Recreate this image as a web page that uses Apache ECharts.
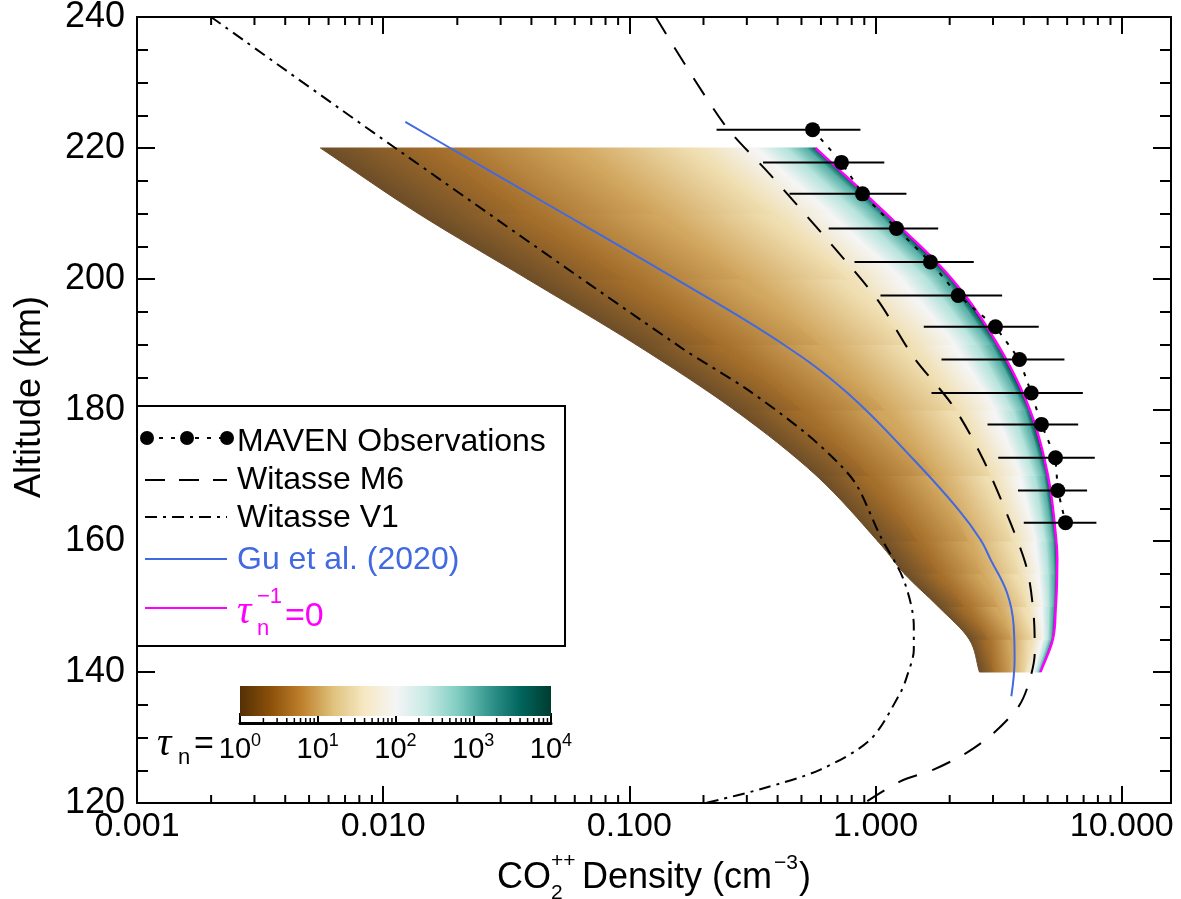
<!DOCTYPE html>
<html><head><meta charset="utf-8">
<script src="https://cdn.jsdelivr.net/npm/echarts@6/dist/echarts.min.js"></script>
<style>html,body{margin:0;padding:0;background:#fff}#c{width:1181px;height:899px}</style>
</head><body><div id="c"></div>
<script>
// ---------------- DATA ----------------
// axis ticks
const xMajorTicks = [0.001, 0.01, 0.1, 1, 10];
const yTickLabels = [120, 140, 160, 180, 200, 220, 240];
const colorbarTicks = [1, 10, 100, 1000, 10000];

// MAVEN observations (altitude km, density cm^-3, error-bar bounds)
const mavenAlt     = [222.8, 217.8, 213.0, 207.7, 202.6, 197.5, 192.7, 187.7, 182.6, 177.8, 172.7, 167.7, 162.8];
const mavenDensity = [0.555, 0.727, 0.885, 1.216, 1.671, 2.165, 3.069, 3.84, 4.29, 4.72, 5.38, 5.50, 5.91];
const mavenErrLow  = [0.226, 0.349, 0.447, 0.645, 0.821, 1.047, 1.570, 1.853, 1.687, 2.85, 3.15, 3.79, 4.0];
const mavenErrHigh = [0.868, 1.085, 1.335, 1.796, 2.505, 3.266, 4.60, 5.85, 6.95, 6.65, 7.77, 7.23, 7.89];

// Witasse M6 (dashed)
const m6Alt     = [240, 223.8, 215.9, 204.9, 196.8, 188.1, 180.5, 172.4, 162.8, 155.6, 148.5, 142.9, 138.3, 134.8, 130.7, 127.7, 125.1, 123.3, 120];
const m6Density = [0.128, 0.241, 0.374, 0.675, 1.019, 1.426, 2.073, 2.74, 3.53, 4.13, 4.39, 4.43, 4.19, 3.82, 3.02, 2.35, 1.72, 1.26, 0.90];

// Witasse V1 (dash-dot)
const v1Alt     = [240, 220, 189.6, 183.1, 176.5, 171.6, 168.3, 160.7, 154.1, 147.0, 143.4, 139.3, 136.8, 129.7, 125.1, 122.1, 120];
const v1Density = [0.0020, 0.0112, 0.161, 0.302, 0.519, 0.719, 0.845, 1.047, 1.30, 1.43, 1.43, 1.34, 1.26, 0.953, 0.597, 0.340, 0.204];

// Gu et al. (2020)
const guAlt     = [224.0, 220.0, 212.1, 199.6, 190.3, 182.6, 172.4, 164.8, 160.2, 157.2, 152.1, 147.0, 141.9, 136.3];
const guDensity = [0.0123, 0.0187, 0.0432, 0.161, 0.411, 0.769, 1.43, 2.17, 2.67, 2.93, 3.42, 3.64, 3.67, 3.56];

// model family: density profiles for tau_n = 10^0 ... 10^3.5 and tau_n^-1 = 0
const modelAlt = [140, 145, 150, 155, 160, 170, 180, 190, 200, 210, 220];
const tauLog10 = [0, 0.5, 1, 1.5, 2, 2.5, 3, 3.5, 4];
const tau_1e0   = [2.642, 2.399, 1.795, 1.309, 1.019, 0.574, 0.267, 0.1062, 0.0385, 0.01387, 0.00556];
const tau_1e0_5 = [3.013, 2.871, 2.312, 1.820, 1.496, 0.944, 0.505, 0.2312, 0.0959, 0.0379, 0.01614];
const tau_1e1   = [3.532, 3.573, 3.148, 2.710, 2.388, 1.734, 1.094, 0.597, 0.2917, 0.1291, 0.0590];
const tau_1e1_5 = [4.064, 4.335, 4.121, 3.846, 3.597, 2.944, 2.153, 1.368, 0.771, 0.378, 0.1832];
const tau_1e2   = [4.365, 4.775, 4.732, 4.603, 4.436, 3.864, 3.041, 2.089, 1.268, 0.652, 0.327];
const tau_1e2_5 = [4.519, 5.012, 5.047, 5.012, 4.898, 4.406, 3.589, 2.559, 1.611, 0.847, 0.4315];
const tau_1e3   = [4.624, 5.164, 5.272, 5.309, 5.236, 4.797, 4.009, 2.931, 1.888, 1.009, 0.520];
const tau_1e3_5 = [4.667, 5.224, 5.370, 5.420, 5.370, 4.955, 4.178, 3.083, 2.000, 1.079, 0.557];
const tau_inf   = [4.677, 5.248, 5.395, 5.458, 5.420, 5.012, 4.236, 3.133, 2.042, 1.102, 0.570];

// ---------------- STYLE ----------------
const FONT = '"Liberation Sans", Arial, Helvetica, sans-serif';
const SERIF = '"Liberation Serif", "DejaVu Serif", serif';
const BRBG = ['#543005','#8c510a','#bf812d','#dfc27d','#f6e8c3','#f5f5f5','#c7eae5','#80cdc1','#35978f','#01665e','#003c30'];
const BLUE = '#4169E1', MAGENTA = '#FF00FF';
// the striped rendering of the original makes the low-tau part look a bit lighter
const STRIPE_LIGHTEN = [0.14, 0.10, 0.05, 0, 0, 0, 0, 0, 0];

function hexRgb(h){ return [parseInt(h.substr(1,2),16), parseInt(h.substr(3,2),16), parseInt(h.substr(5,2),16)]; }
function brbgRgb(t){
  t = Math.max(0, Math.min(1, t));
  const n = BRBG.length - 1, f = t * n, i = Math.min(n - 1, Math.floor(f)), u = f - i;
  const a = hexRgb(BRBG[i]), b = hexRgb(BRBG[i + 1]);
  return [0,1,2].map(k => a[k] + (b[k] - a[k]) * u);
}
function rgbStr(c, w){ return 'rgb(' + c.map(v => Math.round(v + (255 - v) * (w || 0))).join(',') + ')'; }

const curves = [tau_1e0, tau_1e0_5, tau_1e1, tau_1e1_5, tau_1e2, tau_1e2_5, tau_1e3, tau_1e3_5, tau_inf];
const curveColors = tauLog10.map((l, i) => rgbStr(brbgRgb(l / 4), STRIPE_LIGHTEN[i]));

const bandItems = [];
for (let b = 0; b < curves.length - 1; b++)
  for (let s = 0; s < modelAlt.length - 1; s++)
    bandItems.push([curves[b][s], modelAlt[s], b, s]);

// smooth (Catmull-Rom) rendering of a profile segment in pixel space
const SUB = 8;
function segmentPixels(api, curve, s){
  const P = k => api.coord([curve[k], modelAlt[k]]);
  const p1 = P(s), p2 = P(s + 1);
  const p0 = s > 0 ? P(s - 1) : [2 * p1[0] - p2[0], 2 * p1[1] - p2[1]];
  const p3 = s + 2 < modelAlt.length ? P(s + 2) : [2 * p2[0] - p1[0], 2 * p2[1] - p1[1]];
  const out = [];
  for (let j = 0; j <= SUB; j++) {
    const t = j / SUB, t2 = t * t, t3 = t2 * t;
    out.push([0, 1].map(d => 0.5 * (2 * p1[d] + (-p0[d] + p2[d]) * t +
      (2 * p0[d] - 5 * p1[d] + 4 * p2[d] - p3[d]) * t2 + (-p0[d] + 3 * p1[d] - 3 * p2[d] + p3[d]) * t3)));
  }
  return out;
}

function renderBand(params, api){
  const b = api.value(2), s = api.value(3);
  const L = segmentPixels(api, curves[b], s), R = segmentPixels(api, curves[b + 1], s);
  const p0 = L[0], p1 = L[L.length - 1], q0 = R[0], q1 = R[R.length - 1];
  let dx = p1[0] - p0[0], dy = p1[1] - p0[1];
  const len = Math.hypot(dx, dy) || 1;
  let nx = -dy / len, ny = dx / len;
  const mx = (p0[0] + p1[0]) / 2, my = (p0[1] + p1[1]) / 2;
  const qx = (q0[0] + q1[0]) / 2, qy = (q0[1] + q1[1]) / 2;
  let w = (qx - mx) * nx + (qy - my) * ny;
  if (w < 0) { nx = -nx; ny = -ny; w = -w; }
  if (w < 0.5) w = 0.5;
  const grad = new echarts.graphic.LinearGradient(mx, my, mx + nx * w, my + ny * w,
    [{offset: 0, color: curveColors[b]}, {offset: 1, color: curveColors[b + 1]}], true);
  return {
    type: 'polygon',
    shape: {points: L.concat(R.slice().reverse())},
    style: {fill: grad, stroke: grad, lineWidth: 1}
  };
}

function renderInfCurve(params, api){
  let pts = [];
  for (let s = 0; s < modelAlt.length - 1; s++) {
    const seg = segmentPixels(api, tau_inf, s);
    pts = pts.concat(s === 0 ? seg : seg.slice(1));
  }
  return {type: 'polyline', shape: {points: pts}, style: {stroke: MAGENTA, lineWidth: 2.5, fill: null}};
}

// minor tick positions (2..9 x decade)
const mainMinor = [];
[0.001, 0.01, 0.1, 1].forEach(d => { for (let k = 2; k <= 9; k++) mainMinor.push(+(k * d).toPrecision(3)); });
const cbMinor = [];
[1, 10, 100, 1000].forEach(d => { for (let k = 2; k <= 9; k++) cbMinor.push(k * d); });

function isPow10(v){ const l = Math.log10(v); return Math.abs(l - Math.round(l)) < 1e-6; }

const axisBlack = {color: '#000', width: 2};
const T = (text, x, y, size, color, extra) => Object.assign({type: 'text', z: 22,
  style: {text: text, x: x, y: y, font: size + 'px ' + FONT, fill: color || '#000', textAlign: 'left', textVerticalAlign: 'middle'}}, extra || {});

const option = {
  animation: false,
  backgroundColor: '#ffffff',
  grid: [
    {left: 137, top: 17, width: 1034, height: 786, containLabel: false, outerBoundsMode: 'none'},
    {left: 240, top: 686, width: 311, height: 37, containLabel: false, outerBoundsMode: 'none'}
  ],
  xAxis: [
    {type: 'log', logBase: 10, min: 0.001, max: 15.85, gridIndex: 0, position: 'bottom',
     axisLine: {show: true, onZero: false, lineStyle: axisBlack},
     axisTick: {show: true, inside: true, length: 17, lineStyle: axisBlack},
     axisLabel: {show: true, color: '#000', fontSize: 34, fontFamily: FONT, margin: 7,
       formatter: v => isPow10(v) ? Number(v).toFixed(3) : ''},
     splitLine: {show: false}},
    {type: 'log', logBase: 10, min: 0.001, max: 15.85, gridIndex: 0, position: 'top',
     axisLine: {show: true, onZero: false, lineStyle: axisBlack},
     axisTick: {show: true, inside: true, length: 17, lineStyle: axisBlack},
     axisLabel: {show: false}, splitLine: {show: false}},
    {type: 'log', logBase: 10, min: 1, max: 10000, gridIndex: 1, position: 'bottom',
     axisLine: {show: true, onZero: false, lineStyle: {color: '#000', width: 3}},
     axisTick: {show: true, inside: true, length: 10, lineStyle: axisBlack},
     axisLabel: {show: true, color: '#000', fontSize: 29, fontFamily: FONT, margin: 9, lineHeight: 36,
       formatter: v => isPow10(v) ? '10{sup|' + Math.round(Math.log10(v)) + '}' : '',
       rich: {sup: {fontSize: 18, fontFamily: FONT, color: '#000', verticalAlign: 'top', lineHeight: 14}}},
     splitLine: {show: false}}
  ],
  yAxis: [
    {type: 'value', min: 120, max: 240, interval: 20, gridIndex: 0, position: 'left',
     axisLine: {show: true, onZero: false, lineStyle: axisBlack},
     axisTick: {show: true, inside: true, length: 18, lineStyle: axisBlack},
     minorTick: {show: true, splitNumber: 4, length: 11, lineStyle: axisBlack},
     axisLabel: {show: true, color: '#000', fontSize: 36, fontFamily: FONT, margin: 12},
     splitLine: {show: false}, minorSplitLine: {show: false}},
    {type: 'value', min: 120, max: 240, interval: 20, gridIndex: 0, position: 'right',
     axisLine: {show: true, onZero: false, lineStyle: axisBlack},
     axisTick: {show: true, inside: true, length: 18, lineStyle: axisBlack},
     minorTick: {show: true, splitNumber: 4, length: 11, lineStyle: axisBlack},
     axisLabel: {show: false}, splitLine: {show: false}, minorSplitLine: {show: false}},
    {type: 'value', min: 0, max: 1, gridIndex: 1, show: false}
  ],
  graphic: [
    // colorbar gradient
    {type: 'rect', z: 5, shape: {x: 240, y: 686, width: 311, height: 30},
     style: {fill: new echarts.graphic.LinearGradient(0, 0, 1, 0, BRBG.map((c, i) => ({offset: i / (BRBG.length - 1), color: c})))}},
    {type: 'text', z: 6, style: {text: 'τ', x: 157, y: 744, font: 'italic 40px ' + SERIF, fill: '#000', textAlign: 'left', textVerticalAlign: 'middle'}},
    T('n', 178, 758, 22, '#000', {z: 6}),
    T('=', 194, 745, 34, '#000', {z: 6}),
    // legend box
    {type: 'rect', z: 20, shape: {x: 137, y: 406, width: 428, height: 240},
     style: {fill: '#fff', stroke: '#000', lineWidth: 2}},
    {type: 'line', z: 21, shape: {x1: 147, y1: 438, x2: 227, y2: 438}, style: {stroke: '#000', lineWidth: 2, lineDash: [4, 8]}},
    {type: 'circle', z: 22, shape: {cx: 147, cy: 438, r: 7}, style: {fill: '#000'}},
    {type: 'circle', z: 22, shape: {cx: 187, cy: 438, r: 7}, style: {fill: '#000'}},
    {type: 'circle', z: 22, shape: {cx: 227, cy: 438, r: 7}, style: {fill: '#000'}},
    T('MAVEN Observations', 237, 442, 32),
    {type: 'line', z: 21, shape: {x1: 145, y1: 480, x2: 227, y2: 480}, style: {stroke: '#000', lineWidth: 2, lineDash: [20, 14]}},
    T('Witasse M6', 237, 480, 32),
    {type: 'line', z: 21, shape: {x1: 145, y1: 517, x2: 227, y2: 517}, style: {stroke: '#000', lineWidth: 2, lineDash: [12, 6, 3, 6]}},
    T('Witasse V1', 237, 518, 32),
    {type: 'line', z: 21, shape: {x1: 145, y1: 559, x2: 227, y2: 559}, style: {stroke: BLUE, lineWidth: 2}},
    T('Gu et al. (2020)', 237, 560, 32, BLUE),
    {type: 'line', z: 21, shape: {x1: 145, y1: 608, x2: 227, y2: 608}, style: {stroke: MAGENTA, lineWidth: 2}},
    {type: 'text', z: 22, style: {text: 'τ', x: 237, y: 612, font: 'italic 40px ' + SERIF, fill: MAGENTA, textAlign: 'left', textVerticalAlign: 'middle'}},
    T('n', 257, 629, 22, MAGENTA),
    T('−1', 257, 597, 22, MAGENTA),
    T('=0', 285, 617, 34, MAGENTA),
    // x-axis title
    T('CO', 497, 878, 36, '#000', {z: 5}),
    T('2', 551, 893, 21, '#000', {z: 5}),
    T('++', 551, 861, 21, '#000', {z: 5}),
    T('Density (cm', 582, 878, 36, '#000', {z: 5}),
    T('−3', 774, 863, 21, '#000', {z: 5}),
    T(')', 799, 878, 36, '#000', {z: 5}),
    // y-axis title
    {type: 'text', z: 5, x: 30, y: 397, rotation: Math.PI / 2,
     style: {text: 'Altitude (km)', x: 0, y: 0, font: '36px ' + FONT, fill: '#000', textAlign: 'center', textVerticalAlign: 'middle'}}
  ],
  series: [
    {type: 'custom', name: 'model family', xAxisIndex: 0, yAxisIndex: 0, data: bandItems, renderItem: renderBand, z: 1, silent: true},
    {type: 'line', name: 'Witasse V1', xAxisIndex: 0, yAxisIndex: 0, data: v1Alt.map((a, i) => [v1Density[i], a]),
     smooth: 0.3, showSymbol: false, symbol: 'none', lineStyle: {color: '#000', width: 2, type: [12, 6, 3, 6]}, z: 3},
    {type: 'line', name: 'Witasse M6', xAxisIndex: 0, yAxisIndex: 0, data: m6Alt.map((a, i) => [m6Density[i], a]),
     smooth: 0.3, showSymbol: false, symbol: 'none', lineStyle: {color: '#000', width: 2, type: [20, 16]}, z: 3},
    {type: 'line', name: 'Gu et al. (2020)', xAxisIndex: 0, yAxisIndex: 0, data: guAlt.map((a, i) => [guDensity[i], a]),
     smooth: 0.4, showSymbol: false, symbol: 'none', lineStyle: {color: BLUE, width: 2}, z: 3},
    {type: 'custom', name: 'tau_n^-1 = 0', xAxisIndex: 0, yAxisIndex: 0, data: [[tau_inf[0], modelAlt[0]]],
     renderItem: renderInfCurve, z: 4, silent: true},
    {type: 'custom', name: 'MAVEN error', xAxisIndex: 0, yAxisIndex: 0,
     data: mavenAlt.map((a, i) => [mavenErrLow[i], a, mavenErrHigh[i]]), z: 5,
     renderItem: (params, api) => {
       const p0 = api.coord([api.value(0), api.value(1)]), p1 = api.coord([api.value(2), api.value(1)]);
       return {type: 'line', shape: {x1: p0[0], y1: p0[1], x2: p1[0], y2: p1[1]}, style: {stroke: '#000', lineWidth: 2}};
     }},
    {type: 'line', name: 'MAVEN Observations', xAxisIndex: 0, yAxisIndex: 0, data: mavenAlt.map((a, i) => [mavenDensity[i], a]),
     symbol: 'circle', symbolSize: 15, itemStyle: {color: '#000'}, lineStyle: {color: '#000', width: 2, type: [4, 8]}, z: 6},
    {type: 'custom', name: 'minor ticks', xAxisIndex: 0, yAxisIndex: 0, data: mainMinor.map(v => [v, 120]), z: 10, silent: true,
     renderItem: (params, api) => {
       const b = api.coord([api.value(0), 120]), t = api.coord([api.value(0), 240]);
       return {type: 'group', children: [
         {type: 'line', shape: {x1: b[0], y1: b[1], x2: b[0], y2: b[1] - 8}, style: {stroke: '#000', lineWidth: 2}},
         {type: 'line', shape: {x1: t[0], y1: t[1], x2: t[0], y2: t[1] + 8}, style: {stroke: '#000', lineWidth: 2}}
       ]};
     }},
    {type: 'custom', name: 'colorbar minor ticks', xAxisIndex: 2, yAxisIndex: 2, data: cbMinor.map(v => [v, 0]), z: 10, silent: true,
     renderItem: (params, api) => {
       const b = api.coord([api.value(0), 0]);
       return {type: 'line', shape: {x1: b[0], y1: b[1], x2: b[0], y2: b[1] - 5}, style: {stroke: '#000', lineWidth: 1.5}};
     }}
  ]
};

const chart = echarts.init(document.getElementById('c'), null, {renderer: 'canvas', width: 1181, height: 899});
chart.setOption(option);
</script>
</body></html>
